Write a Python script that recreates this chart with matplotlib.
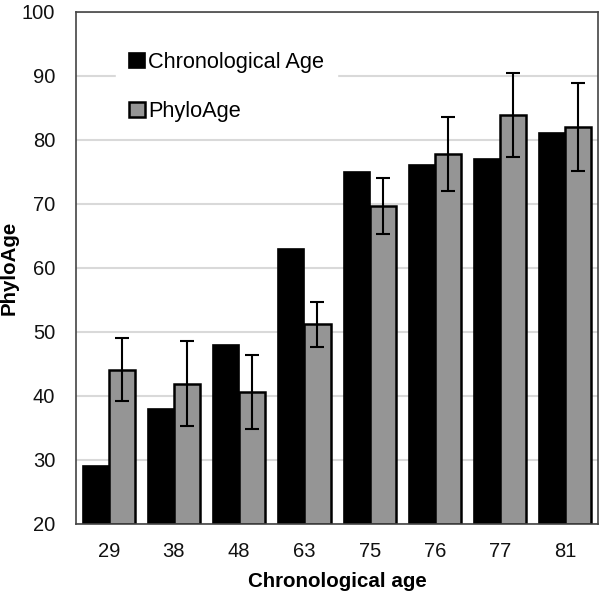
import numpy as np
import matplotlib.pyplot as plt

plt.rcParams['font.family'] = ['Liberation Sans', 'DejaVu Sans']

ages = ['29', '38', '48', '63', '75', '76', '77', '81']
chrono_age = [29, 38, 48, 63, 75, 76, 77, 81]
phylo_age = [44.1, 41.9, 40.6, 51.2, 69.7, 77.8, 83.9, 82.0]
phylo_err = [4.9, 6.6, 5.8, 3.5, 4.4, 5.8, 6.5, 6.9]

fig = plt.figure(figsize=(6.04, 5.94), dpi=100)
ax = fig.add_axes([0.126, 0.118, 0.864, 0.862])

x = np.arange(len(ages))
w = 0.4
ax.bar(x - w / 2, np.array(chrono_age) - 20, w, bottom=20, color='black',
       edgecolor='black', linewidth=1.2, label='Chronological Age', zorder=2)
ax.bar(x + w / 2, np.array(phylo_age) - 20, w, bottom=20, color='#959595',
       edgecolor='black', linewidth=1.8, label='PhyloAge', zorder=2)
ax.errorbar(x + w / 2, phylo_age, yerr=phylo_err, fmt='none', ecolor='black',
            elinewidth=1.5, capsize=5, capthick=1.5, zorder=3)

ax.set_ylim(20, 100)
ax.set_xlim(-0.5, len(ages) - 0.5)
ax.set_yticks(range(20, 101, 10))
ax.set_xticks(x)
ax.set_xticklabels(ages)
ax.yaxis.grid(True, color='#d9d9d9', linewidth=1.5, zorder=0)
ax.set_axisbelow(True)
ax.tick_params(length=0, labelsize=14.5, colors='#111111')
ax.tick_params(axis='y', pad=15)
ax.tick_params(axis='x', pad=13)
for s in ax.spines.values():
    s.set_color('#444444')
    s.set_linewidth(1.2)

ax.set_xlabel('Chronological age', fontsize=14.8, fontweight='bold', labelpad=8)
ax.set_ylabel('PhyloAge', fontsize=14.8, fontweight='bold')
ax.yaxis.set_label_coords(-0.111, 0.5)

leg = ax.legend(loc='upper left', bbox_to_anchor=(0.077, 0.947), fontsize=15.7,
                handlelength=0.7, handleheight=0.7, handletextpad=0.15,
                labelspacing=1.3, frameon=True, fancybox=False,
                borderpad=0.6, borderaxespad=0)
leg.get_frame().set_edgecolor('white')
leg.get_frame().set_facecolor('white')
leg.get_frame().set_alpha(1)

fig.savefig('out.png', dpi=100)
